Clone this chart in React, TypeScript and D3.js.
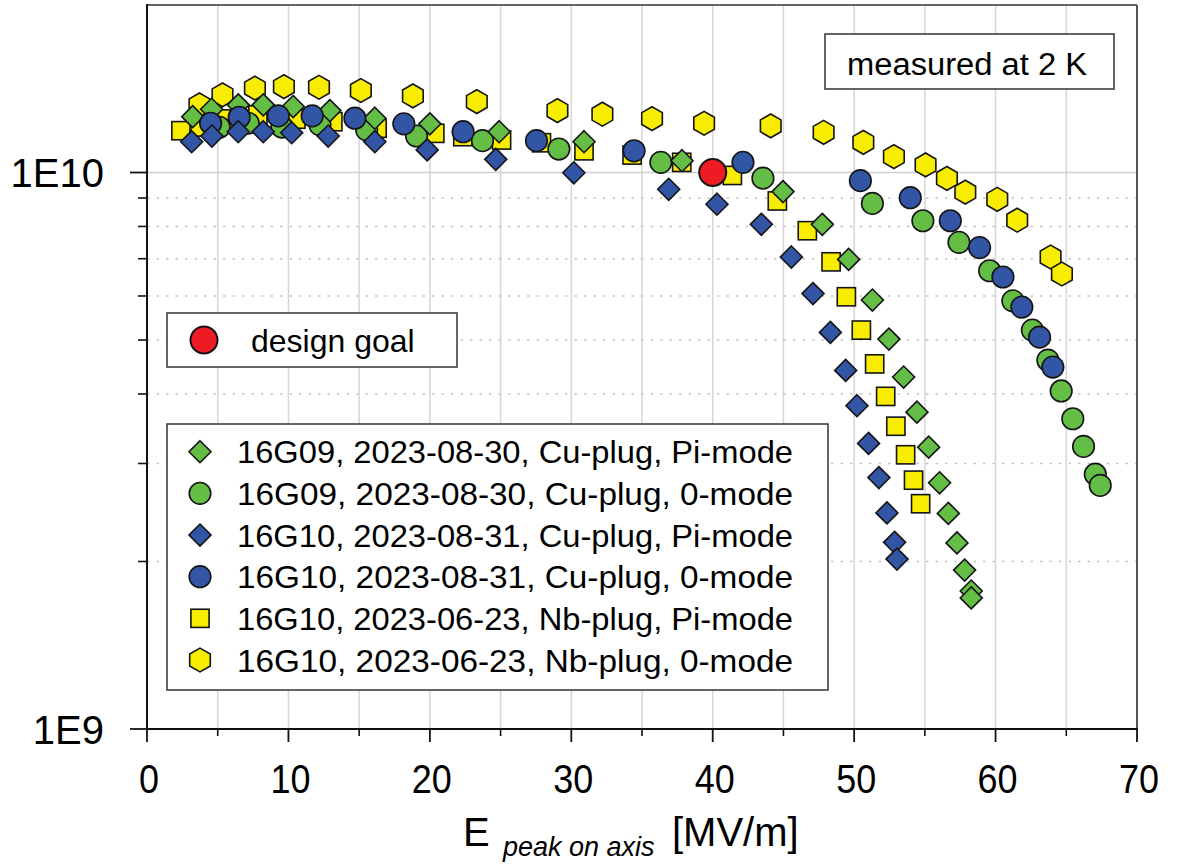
import React from 'react';
import * as d3 from 'd3';

// ---------- data ----------
const xTickValues = [0, 10, 20, 30, 40, 50, 60, 70];
const xMinorValues = [5, 15, 25, 35, 45, 55, 65];
const yMajorValues = [1e9, 1e10];
const yMajorLabels = ['1E9', '1E10'];
const yMinorValues = [2e9, 3e9, 4e9, 5e9, 6e9, 7e9, 8e9, 9e9];

const legendLabels = [
  '16G09, 2023-08-30, Cu-plug, Pi-mode',
  '16G09, 2023-08-30, Cu-plug, 0-mode',
  '16G10, 2023-08-31, Cu-plug, Pi-mode',
  '16G10, 2023-08-31, Cu-plug, 0-mode',
  '16G10, 2023-06-23, Nb-plug, Pi-mode',
  '16G10, 2023-06-23, Nb-plug, 0-mode',
];

// 16G09 Cu-plug Pi-mode (green diamonds)
const g09PiE = [3.23, 4.57, 6.45, 8.22, 10.34, 12.93, 16.11, 20.0, 24.9, 30.9, 37.83, 44.97, 47.75, 49.61, 51.29, 52.46, 53.5, 54.44, 55.27, 56.04, 56.66, 57.27, 57.81, 58.28, 58.28];
const g09PiQ = [1.26, 1.299, 1.323, 1.323, 1.314, 1.292, 1.252, 1.223, 1.184, 1.136, 1.05, 0.924, 0.807, 0.698, 0.59, 0.502, 0.429, 0.371, 0.321, 0.277, 0.244, 0.216, 0.193, 0.177, 0.172];

// 16G09 Cu-plug 0-mode (green circles)
const g09ZeroE = [5.11, 7.16, 9.54, 12.23, 15.53, 19.06, 23.72, 29.12, 36.33, 43.55, 51.29, 54.86, 57.41, 59.58, 61.22, 62.6, 63.7, 64.64, 65.46, 66.22, 67.05, 67.4];
const g09ZeroQ = [1.206, 1.226, 1.207, 1.218, 1.193, 1.163, 1.141, 1.102, 1.043, 0.977, 0.88, 0.819, 0.749, 0.666, 0.588, 0.521, 0.46, 0.405, 0.361, 0.322, 0.287, 0.274];

// 16G10 Cu-plug Pi-mode (blue diamonds)
const g10PiE = [3.16, 4.59, 6.45, 8.22, 10.23, 12.81, 16.11, 19.81, 24.66, 30.18, 36.89, 40.3, 43.44, 45.56, 47.09, 48.32, 49.4, 50.2, 51.02, 51.75, 52.32, 52.86, 53.03];
const g10PiQ = [1.136, 1.163, 1.184, 1.184, 1.179, 1.163, 1.136, 1.098, 1.056, 0.999, 0.933, 0.877, 0.807, 0.705, 0.606, 0.516, 0.441, 0.381, 0.326, 0.283, 0.2445, 0.2165, 0.202];

// 16G10 Cu-plug 0-mode (blue circles)
const g10ZeroE = [4.5, 6.52, 9.28, 11.68, 14.7, 18.16, 22.35, 27.54, 34.44, 42.14, 50.44, 53.97, 56.8, 58.87, 60.52, 61.86, 63.11, 64.05];
const g10ZeroQ = [1.226, 1.257, 1.264, 1.264, 1.252, 1.223, 1.184, 1.141, 1.094, 1.043, 0.967, 0.901, 0.819, 0.733, 0.649, 0.573, 0.506, 0.447];

// 16G10 Nb-plug Pi-mode (yellow squares)
const nbPiE = [2.4, 3.75, 5.65, 7.84, 10.53, 13.14, 16.27, 20.35, 22.33, 25.07, 27.89, 30.9, 34.3, 37.81, 41.39, 44.57, 46.69, 48.37, 49.45, 50.51, 51.45, 52.23, 52.95, 53.64, 54.2, 54.7];
const nbPiQ = [1.189, 1.207, 1.248, 1.269, 1.247, 1.234, 1.201, 1.176, 1.16, 1.144, 1.131, 1.094, 1.075, 1.043, 0.988, 0.889, 0.786, 0.691, 0.598, 0.521, 0.453, 0.396, 0.35, 0.311, 0.28, 0.254];

// 16G10 Nb-plug 0-mode (yellow hexagons)
const nbZeroE = [3.71, 5.34, 7.63, 9.68, 12.16, 15.12, 18.8, 23.32, 29.02, 32.2, 35.71, 39.39, 44.1, 47.84, 50.65, 52.81, 55.05, 56.56, 57.86, 60.12, 61.53, 63.89, 64.69];
const nbZeroQ = [1.323, 1.379, 1.418, 1.427, 1.423, 1.404, 1.373, 1.341, 1.292, 1.273, 1.25, 1.226, 1.213, 1.181, 1.133, 1.068, 1.032, 0.976, 0.922, 0.895, 0.821, 0.705, 0.657];

// design goal
const goalE = [40];
const goalQ = [1.0];

const Q_UNIT = 1e10;

// ---------- styling ----------
const GREEN = '#64BE46';
const BLUE = '#3355A6';
const YELLOW = '#F8EC00';
const RED = '#ED1C24';
const FONT = 'Liberation Sans, Arial, Helvetica, sans-serif';

type Shape = 'diamond' | 'circle' | 'square' | 'hexagon';

function Marker({ shape, x, y, fill, size = 1 }: { shape: Shape; x: number; y: number; fill: string; size?: number }) {
  const sw = 1.6;
  const stroke = '#151515';
  if (shape === 'circle') return <circle cx={x} cy={y} r={10.8 * size} fill={fill} stroke={stroke} strokeWidth={sw} />;
  if (shape === 'square') {
    const s = 18.2 * size;
    return <rect x={x - s / 2} y={y - s / 2} width={s} height={s} fill={fill} stroke={stroke} strokeWidth={sw} />;
  }
  if (shape === 'diamond') {
    const h = 11 * size;
    const pts = [[x, y - h], [x + h, y], [x, y + h], [x - h, y]].map((p) => p.join(',')).join(' ');
    return <polygon points={pts} fill={fill} stroke={stroke} strokeWidth={sw} strokeLinejoin="miter" />;
  }
  const r = 11.9 * size;
  const pts = d3.range(6).map((i) => {
    const a = ((-90 + 60 * i) * Math.PI) / 180;
    return [x + r * Math.cos(a), y + r * Math.sin(a)].join(',');
  }).join(' ');
  return <polygon points={pts} fill={fill} stroke={stroke} strokeWidth={sw} />;
}

export default function App() {
  const left = 147, right = 1137, top = 5, bottom = 729;
  const x = d3.scaleLinear().domain([0, 70]).range([left, right]);
  const y = d3.scaleLog().domain([1e9, 2e10]).range([bottom, top]);

  const series = [
    { E: nbZeroE, Q: nbZeroQ, shape: 'hexagon' as Shape, fill: YELLOW },
    { E: nbPiE, Q: nbPiQ, shape: 'square' as Shape, fill: YELLOW },
    { E: g09ZeroE, Q: g09ZeroQ, shape: 'circle' as Shape, fill: GREEN },
    { E: g09PiE, Q: g09PiQ, shape: 'diamond' as Shape, fill: GREEN },
    { E: g10ZeroE, Q: g10ZeroQ, shape: 'circle' as Shape, fill: BLUE },
    { E: g10PiE, Q: g10PiQ, shape: 'diamond' as Shape, fill: BLUE },
  ];
  const legendShapes: { shape: Shape; fill: string }[] = [
    { shape: 'diamond', fill: GREEN },
    { shape: 'circle', fill: GREEN },
    { shape: 'diamond', fill: BLUE },
    { shape: 'circle', fill: BLUE },
    { shape: 'square', fill: YELLOW },
    { shape: 'hexagon', fill: YELLOW },
  ];

  const gridX = d3.range(5, 70, 5);

  return (
    <svg width={1185} height={866} style={{ position: 'absolute', left: 0, top: 0, background: '#fff' }} fontFamily={FONT}>
      <rect x={0} y={0} width={1185} height={866} fill="#fff" />
      {/* vertical grid every 5 */}
      {gridX.map((v) => (
        <line key={'gx' + v} x1={x(v)} x2={x(v)} y1={top} y2={bottom} stroke="#d6d6d6" strokeWidth={1.5} />
      ))}
      {/* horizontal minor dotted grid */}
      {yMinorValues.map((v) => (
        <line key={'gy' + v} x1={left} x2={right} y1={y(v)} y2={y(v)} stroke="#c4c4c4" strokeWidth={1.6} strokeDasharray="2.5,7" />
      ))}
      <line x1={left} x2={right} y1={y(1e10)} y2={y(1e10)} stroke="#cfcfcf" strokeWidth={1.6} />

      {/* frame */}
      <line x1={left} x2={right} y1={top} y2={top} stroke="#333" strokeWidth={1.5} />
      <line x1={right} x2={right} y1={top} y2={bottom} stroke="#555" strokeWidth={2} />

      {/* data */}
      {series.map((s, si) => (
        <g key={'s' + si}>
          {s.E.map((e, i) => (
            <Marker key={i} shape={s.shape} x={x(e)} y={y(s.Q[i] * Q_UNIT)} fill={s.fill} />
          ))}
        </g>
      ))}
      {goalE.map((e, i) => (
        <circle key={'goal' + i} cx={x(e)} cy={y(goalQ[i] * Q_UNIT)} r={13.5} fill={RED} stroke="#151515" strokeWidth={2} />
      ))}

      {/* axes */}
      <line x1={left} x2={left} y1={top - 1} y2={bottom + 1} stroke="#111" strokeWidth={2} />
      <line x1={left - 1} x2={right + 1} y1={bottom} y2={bottom} stroke="#111" strokeWidth={2} />
      {yMajorValues.map((v, i) => (
        <g key={'ym' + v}>
          <line x1={left - 17} x2={left} y1={y(v)} y2={y(v)} stroke="#111" strokeWidth={1.8} />
          <text x={104} y={y(v) + 14.5} fontSize={40} textAnchor="end" fill="#000">{yMajorLabels[i]}</text>
        </g>
      ))}
      {yMinorValues.map((v) => (
        <line key={'ymi' + v} x1={left - 9} x2={left} y1={y(v)} y2={y(v)} stroke="#111" strokeWidth={1.6} />
      ))}
      {xTickValues.map((v) => (
        <g key={'xt' + v}>
          <line x1={x(v)} x2={x(v)} y1={bottom} y2={bottom + 13} stroke="#111" strokeWidth={1.8} />
          <text x={x(v) + 2} y={793} fontSize={40} textAnchor="middle" fill="#000"
            textLength={String(v).length * 20} lengthAdjust="spacingAndGlyphs">{v}</text>
        </g>
      ))}
      {xMinorValues.map((v) => (
        <line key={'xm' + v} x1={x(v)} x2={x(v)} y1={bottom} y2={bottom + 7} stroke="#111" strokeWidth={1.6} />
      ))}

      {/* x axis title */}
      <text x={463} y={846} fontSize={40} fill="#000">E</text>
      <text x={503} y={856} fontSize={27} fontStyle="italic" fill="#000">peak on axis</text>
      <text x={672} y={846} fontSize={40} fill="#000">[MV/m]</text>

      {/* measured box */}
      <rect x={825} y={34} width={289} height={55} fill="#fff" stroke="#333" strokeWidth={1.5} />
      <text x={967} y={75} fontSize={31} textAnchor="middle" fill="#000" textLength={240} lengthAdjust="spacingAndGlyphs">measured at 2 K</text>

      {/* design goal box */}
      <rect x={167} y={313} width={290} height={54} fill="#fff" stroke="#333" strokeWidth={1.5} />
      <circle cx={204} cy={340} r={13.5} fill={RED} stroke="#151515" strokeWidth={2} />
      <text x={251} y={351.5} fontSize={32} fill="#000">design goal</text>

      {/* legend */}
      <rect x={167} y={424} width={661} height={266} fill="#fff" stroke="#333" strokeWidth={1.5} />
      {legendLabels.map((lab, i) => {
        const cy = 451.7 + i * 41.66;
        return (
          <g key={'lg' + i}>
            <Marker shape={legendShapes[i].shape} x={200} y={cy} fill={legendShapes[i].fill} />
            <text x={237} y={cy + 11.5} fontSize={32} fill="#000" textLength={556} lengthAdjust="spacingAndGlyphs">{lab}</text>
          </g>
        );
      })}
    </svg>
  );
}
